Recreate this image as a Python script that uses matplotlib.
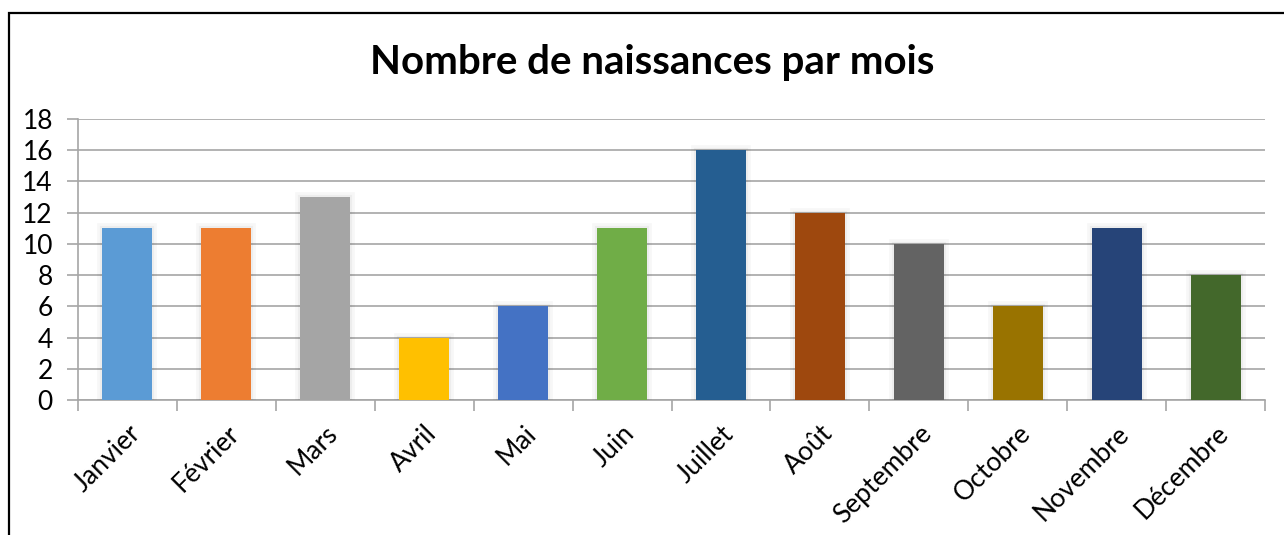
import matplotlib
matplotlib.use("Agg")
import matplotlib.pyplot as plt
import matplotlib.patheffects as pe
from matplotlib.patches import Rectangle
import numpy as np

# births per month
months = ["Janvier", "Février", "Mars", "Avril", "Mai", "Juin",
          "Juillet", "Août", "Septembre", "Octobre", "Novembre", "Décembre"]
births = [11, 11, 13, 4, 6, 11, 16, 12, 10, 6, 11, 8]
colors = ["#5B9BD5", "#ED7D31", "#A5A5A5", "#FFC000", "#4472C4", "#70AD47",
          "#255E91", "#9E480E", "#636363", "#997300", "#264478", "#43682B"]
y_ticks = list(range(0, 19, 2))
title = "Nombre de naissances par mois"

plt.rcParams['font.family'] = ['Lato', 'DejaVu Sans']
grid_col = "#a6a6a6"

fig = plt.figure(figsize=(12.84, 5.35), dpi=100)
# outer chart frame (cut at right and bottom like the screenshot)
fig.patches.append(Rectangle((9 / 1284, -0.1), 1.2, 1.1 - 13 / 535,
                             transform=fig.transFigure, fill=False,
                             edgecolor="black", linewidth=1.6))

ax = fig.add_axes([78 / 1284, 1 - 400 / 535, 1187 / 1284, 281 / 535])
x = np.arange(len(months))
shadow = [pe.Stroke(linewidth=7, foreground="black", alpha=0.03),
          pe.Stroke(linewidth=3, foreground="black", alpha=0.04),
          pe.Normal()]
bars = ax.bar(x, births, width=0.505, color=colors, zorder=3)
for b in bars:
    b.set_path_effects(shadow)

ax.set_xlim(-0.5, len(months) - 0.5)
ax.set_ylim(0, 18)
ax.set_yticks(y_ticks)
ax.grid(axis="y", color=grid_col, linewidth=1.2, zorder=0)
ax.set_axisbelow(True)

ax.set_xticks(x)
ax.set_xticklabels(months, rotation=45, ha="right", rotation_mode="anchor")
ax.set_xticks(np.arange(-0.5, len(months)), minor=True)
ax.tick_params(axis="x", which="major", length=0, pad=15, labelsize=19)
ax.tick_params(axis="x", which="minor", length=8, color=grid_col, width=1.2)
ax.tick_params(axis="y", length=8, color=grid_col, width=1.2, pad=10, labelsize=19)

for s in ["top", "right"]:
    ax.spines[s].set_visible(False)
for s in ["left", "bottom"]:
    ax.spines[s].set_color(grid_col)
    ax.spines[s].set_linewidth(1.2)

fig.text(652 / 1284, 1 - 62 / 535, title, ha="center", va="center",
         fontsize=29, fontweight="bold")

fig.savefig("out.png", dpi=100, facecolor="white")
